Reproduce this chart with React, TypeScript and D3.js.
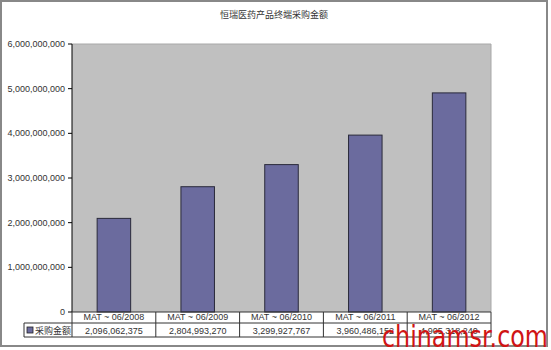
import React from "react";
import * as d3 from "d3";

const categories = ["MAT ~ 06/2008", "MAT ~ 06/2009", "MAT ~ 06/2010", "MAT ~ 06/2011", "MAT ~ 06/2012"];
const values = [2096062375, 2804993270, 3299927767, 3960486152, 4905318240];
const valueLabels = ["2,096,062,375", "2,804,993,270", "3,299,927,767", "3,960,486,152", "4,905,318,240"];
const yTicks = [0, 1000000000, 2000000000, 3000000000, 4000000000, 5000000000, 6000000000];
const title = "恒瑞医药产品终端采购金额";
const seriesName = "采购金额";
const watermark = "chinamsr.com";

export default function App() {
  const W = 551, H = 350;
  const left = 72, right = 491, top = 44, bottom = 312;
  const x = d3.scaleBand().domain(categories).range([left, right]).paddingInner(0.6).paddingOuter(0.3);
  const xc = d3.scaleBand().domain(categories).range([left, right]);
  const y = d3.scaleLinear().domain([0, 6000000000]).range([bottom, top]);
  const fmt = d3.format(",");
  const font = "Arial, 'Liberation Sans', 'Noto Sans CJK SC', sans-serif";
  const row1Top = bottom, row1Bot = 323, row2Bot = 337;
  const legendLeft = 24;
  return (
    <svg width={W} height={H} style={{ position: "absolute", left: 0, top: 0, display: "block" }} fontFamily={font}>
      <rect x={0} y={0} width={W} height={H} fill="#fff" />
      <rect x={1} y={1} width={546} height={345} fill="#fff" stroke="#888" strokeWidth={2} />
      <text x={274} y={18} textAnchor="middle" fontSize={9} fill="#333">{title}</text>
      <rect x={left} y={top} width={right - left} height={bottom - top} fill="#C0C0C0" />
      <line x1={right} y1={top} x2={right} y2={bottom} stroke="#a8a8a8" />
      <line x1={left} y1={top} x2={right} y2={top} stroke="#a8a8a8" />
      {categories.map((c, i) => (
        <rect key={c} x={x(c)!} y={y(values[i])} width={x.bandwidth()} height={bottom - y(values[i])}
          fill="#6B6B9E" stroke="#2a2a3a" strokeWidth={1} />
      ))}
      <line x1={left} y1={top} x2={left} y2={bottom} stroke="#000" />
      {yTicks.map((t) => (
        <g key={t}>
          <line x1={left - 4} x2={left} y1={y(t)} y2={y(t)} stroke="#000" />
          <text x={65} y={y(t) + 3} textAnchor="end" fontSize={9} fill="#333">{fmt(t)}</text>
        </g>
      ))}
      {/* data table */}
      <g stroke="#333" strokeWidth={1} fill="none">
        <line x1={left} y1={row1Top} x2={right} y2={row1Top} />
        <line x1={legendLeft} y1={row1Bot} x2={right} y2={row1Bot} />
        <line x1={legendLeft} y1={row2Bot} x2={right} y2={row2Bot} />
        <line x1={legendLeft} y1={row1Bot} x2={legendLeft} y2={row2Bot} />
        {categories.map((c) => (
          <line key={c} x1={xc(c)!} y1={row1Top} x2={xc(c)!} y2={row2Bot} />
        ))}
        <line x1={right} y1={row1Top} x2={right} y2={row2Bot} />
      </g>
      {categories.map((c, i) => (
        <g key={c}>
          <text x={xc(c)! + xc.bandwidth() / 2} y={row1Bot - 3} textAnchor="middle" fontSize={9} fill="#333">{c}</text>
          <text x={xc(c)! + xc.bandwidth() / 2} y={row2Bot - 3} textAnchor="middle" fontSize={9} fill="#333">{valueLabels[i]}</text>
        </g>
      ))}
      <rect x={27} y={row1Bot + 4} width={6} height={6} fill="#6B6B9E" stroke="#222" strokeWidth={0.8} />
      <text x={35} y={row2Bot - 3} fontSize={9} fill="#333">{seriesName}</text>
      <text x={382} y={347} fontSize={30} fill="#D01414" fontFamily="'DejaVu Sans', sans-serif" textLength={166} lengthAdjust="spacingAndGlyphs">{watermark}</text>
    </svg>
  );
}
